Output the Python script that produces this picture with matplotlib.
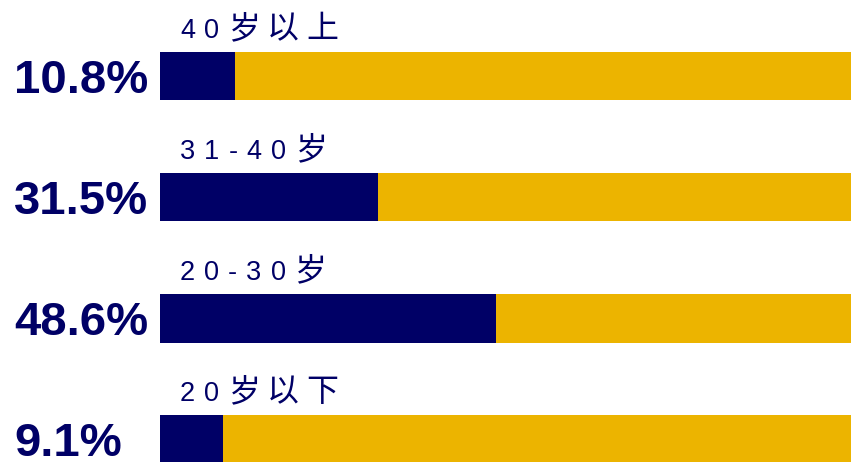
import matplotlib
matplotlib.use("Agg")
import matplotlib.pyplot as plt
from matplotlib import transforms

# Age groups, top to bottom, with their share (%)
categories = ["40岁以上", "31-40岁", "20-30岁", "20岁以下"]
shares = [10.8, 31.5, 48.6, 9.1]
share_labels = ["10.8%", "31.5%", "48.6%", "9.1%"]

NAVY = "#000066"
GOLD = "#ECB400"
W, H, DPI = 851, 462, 100

fig = plt.figure(figsize=(W / DPI, H / DPI), dpi=DPI)
fig.patch.set_facecolor("white")

left_px = 160
ax = fig.add_axes([left_px / W, 0, (W - left_px) / W, 1])
ax.set_xlim(0, 100)
row_px = 121
first_center_px = 76.5
ax.set_ylim((H - first_center_px) / row_px, -first_center_px / row_px)
ax.axis("off")

ys = list(range(len(categories)))
bar_h = 48 / row_px
ax.barh(ys, [100] * len(ys), height=bar_h, color=GOLD, linewidth=0)
ax.barh(ys, shares, height=bar_h, color=NAVY, linewidth=0)


def px_offset(dx, dy):
    """Shift in pixels (dy positive = downwards) on top of a figure-x / data-y transform."""
    base = transforms.blended_transform_factory(fig.transFigure, ax.transData)
    return base + transforms.ScaledTranslation(dx / DPI, -dy / DPI, fig.dpi_scale_trans)


# Percent labels on the left, cap height centred on the bar
pct_size = 34
cap_px = pct_size / 72 * DPI * 0.716
for y, txt in zip(ys, share_labels):
    ax.text(0, y, txt, transform=px_offset(14, cap_px / 2), ha="left", va="baseline",
            fontsize=pct_size, fontweight="bold", color=NAVY,
            family=["Liberation Sans", "DejaVu Sans"])

# Category titles above each bar, drawn with letter spacing
fig.canvas.draw()
renderer = fig.canvas.get_renderer()
tracking_px = 9
for y, name in zip(ys, categories):
    x_px = 180
    for ch in name:
        cjk = ord(ch) > 0x2E80
        t = ax.text(0, y, ch, transform=px_offset(x_px, -38.5), ha="left", va="baseline",
                    fontsize=23 if cjk else 19.5, color=NAVY,
                    family=["Noto Sans CJK SC"] if cjk else ["Liberation Sans"])
        bb = t.get_window_extent(renderer=renderer)
        x_px += bb.width + (7 if cjk else tracking_px)

fig.savefig("out.png", dpi=DPI, facecolor="white")
